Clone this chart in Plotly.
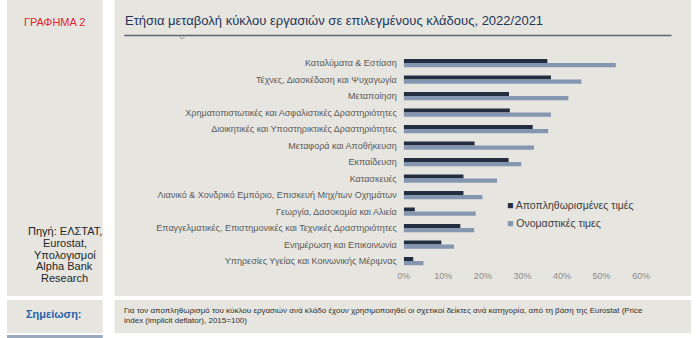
import plotly.graph_objects as go

categories = [
    "Καταλύματα & Εστίαση",
    "Τέχνες, Διασκέδαση και Ψυχαγωγία",
    "Μεταποίηση",
    "Χρηματοπιστωτικές και Ασφαλιστικές Δραστηριότητες",
    "Διοικητικές και Υποστηρικτικές Δραστηριότητες",
    "Μεταφορά και Αποθήκευση",
    "Εκπαίδευση",
    "Κατασκευές",
    "Λιανικό & Χονδρικό Εμπόριο, Επισκευή Μηχ/των Οχημάτων",
    "Γεωργία, Δασοκομία και Αλιεία",
    "Επαγγελματικές, Επιστημονικές και Τεχνικές Δραστηριότητες",
    "Ενημέρωση και Επικοινωνία",
    "Υπηρεσίες Υγείας και Κοινωνικής Μέριμνας",
]
deflated = [0.363, 0.372, 0.266, 0.268, 0.326, 0.179, 0.265, 0.151, 0.151, 0.028, 0.143, 0.095, 0.024]
nominal = [0.536, 0.449, 0.416, 0.372, 0.365, 0.329, 0.297, 0.236, 0.199, 0.182, 0.178, 0.127, 0.050]
series_names = ["Αποπληθωρισμένες τιμές", "Ονομαστικές τιμες"]
x_ticks = [0, 0.1, 0.2, 0.3, 0.4, 0.5, 0.6]
source_lines = ["Πηγή: ΕΛΣΤΑΤ,", "Eurostat,", "Υπολογισμοί", "Alpha Bank", "Research"]

DARK = "#232f40"
LIGHT = "#8597b0"
PANEL = "#e6e5e0"
W, H = 700, 338

def px(x):
    return x / W

def py(y):
    return 1 - y / H

fig = go.Figure()
fig.add_trace(go.Bar(y=categories, x=deflated, orientation="h", name=series_names[0],
                     marker=dict(color=DARK, line=dict(width=0)), showlegend=False))
fig.add_trace(go.Bar(y=categories, x=nominal, orientation="h", name=series_names[1],
                     marker=dict(color=LIGHT, line=dict(width=0)), showlegend=False))

shapes = []
def rect(x0, y0, x1, y1, color):
    shapes.append(dict(type="rect", xref="paper", yref="paper", x0=px(x0), x1=px(x1),
                       y0=py(y1), y1=py(y0), fillcolor=color, line=dict(width=0), layer="below"))

rect(0, 0, 98, 296, PANEL)
rect(110, 0, 700, 296, PANEL)
rect(0, 300, 98, 333, PANEL)
rect(110, 300, 700, 333, PANEL)
rect(0, 335, 98, 338, "#9aa9bd")

# title underline
shapes.append(dict(type="line", xref="paper", yref="paper", x0=px(120), x1=px(680),
                   y0=py(35.5), y1=py(35.5), line=dict(color="#5f6570", width=1.5)))
shapes.append(dict(type="path", xref="paper", yref="paper",
                   path=f"M {px(175)},{py(35.5)} L {px(179)},{py(39)} L {px(183)},{py(35.5)}",
                   line=dict(color="#9aa0a8", width=1)))

annotations = [
    dict(text="ΓΡΑΦΗΜΑ 2", x=px(48.5), y=py(22), xref="paper", yref="paper", showarrow=False,
         xanchor="center", yanchor="middle", font=dict(color="#e0262c", size=11)),
    dict(text="Ετήσια μεταβολή κύκλου εργασιών σε επιλεγμένους κλάδους, 2022/2021",
         x=px(119), y=py(21), xref="paper", yref="paper", showarrow=False,
         xanchor="left", yanchor="middle", font=dict(color="#1f3559", size=13)),
    dict(text="<b>Σημείωση:</b>", x=px(48.5), y=py(314), xref="paper", yref="paper", showarrow=False,
         xanchor="center", yanchor="middle", font=dict(color="#2a62a8", size=11)),
    dict(text="Για τον αποπληθωρισμό του κύκλου εργασιών ανά κλάδο έχουν χρησιμοποιηθεί οι σχετικοί δείκτες ανά κατηγορία, από τη βάση της Eurostat (Price<br>index (implicit deflator), 2015=100)",
         x=px(118), y=py(315), xref="paper", yref="paper", showarrow=False,
         xanchor="left", yanchor="middle", align="left",
         font=dict(color="#303030", size=8)),
    dict(text=f'<span style="color:{DARK}">■</span> {series_names[0]}', x=px(510), y=py(205),
         xref="paper", yref="paper", showarrow=False, xanchor="left", yanchor="middle",
         font=dict(color="#404040", size=10.5)),
    dict(text=f'<span style="color:{LIGHT}">■</span> {series_names[1]}', x=px(510), y=py(223),
         xref="paper", yref="paper", showarrow=False, xanchor="left", yanchor="middle",
         font=dict(color="#404040", size=10.5)),
]
for i, line in enumerate(source_lines):
    annotations.append(dict(text=line, x=px(59), y=py(231 + 11.8 * i), xref="paper", yref="paper",
                            showarrow=False, xanchor="center", yanchor="middle",
                            font=dict(color="#262626", size=11)))

fig.update_layout(
    width=W, height=H,
    margin=dict(l=0, r=0, t=0, b=0),
    paper_bgcolor="white",
    plot_bgcolor="rgba(0,0,0,0)",
    barmode="group",
    bargap=0.5,
    bargroupgap=0,
    font=dict(family="Liberation Sans, Arial, sans-serif"),
    shapes=shapes,
    annotations=annotations,
    xaxis=dict(domain=[px(406), px(649)], range=[0, 0.6], tickvals=x_ticks, tickformat=".0%",
               showgrid=False, zeroline=False, showline=False, ticks="",
               tickfont=dict(color="#8a8a8a", size=9), fixedrange=True),
    yaxis=dict(domain=[py(269.25), py(54.75)], autorange="reversed", showgrid=False,
               zeroline=False, showline=False, ticks="", ticklabelstandoff=6,
               tickfont=dict(color="#5a5a5a", size=9), fixedrange=True),
)

fig.write_html("out.html")
